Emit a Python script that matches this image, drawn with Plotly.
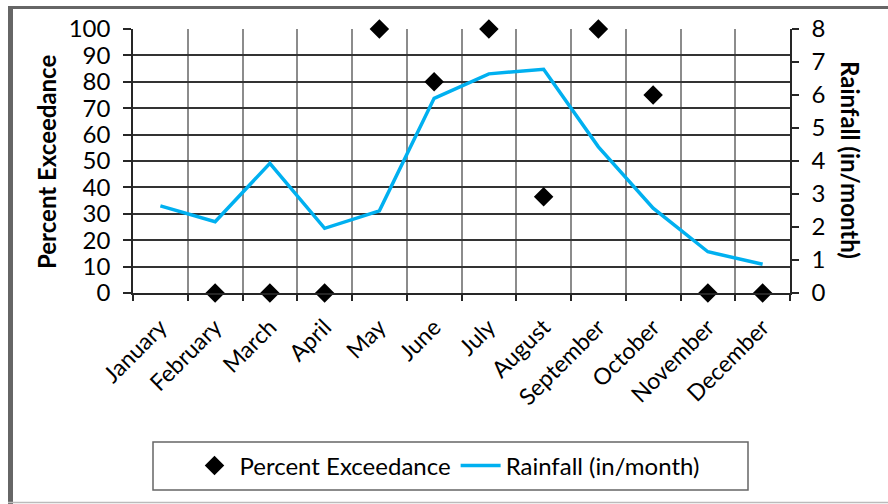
import plotly.graph_objects as go

months = ["January", "February", "March", "April", "May", "June", "July",
          "August", "September", "October", "November", "December"]
percent_exceedance = [None, 0, 0, 0, 100, 80, 100, 36.5, 100, 75, 0, 0]
rainfall = [2.64, 2.16, 3.93, 1.96, 2.49, 5.9, 6.64, 6.78, 4.43, 2.57, 1.25, 0.87]

FONT = "Lato"
FS = 24
W, H = 888, 504
L, R, T, B = 133, 790, 29, 293
pw, ph = R - L, B - T


def px_x(x):
    return (x - L) / pw


def px_y(y):
    return (B - y) / ph


fig = go.Figure()
fig.add_trace(go.Scatter(
    x=months, y=percent_exceedance, name="Percent Exceedance", mode="markers",
    marker=dict(symbol="diamond", size=15, color="black"),
    cliponaxis=False, yaxis="y",
))
fig.add_trace(go.Scatter(
    x=months, y=rainfall, name="Rainfall (in/month)", mode="lines",
    line=dict(color="#00B0F0", width=3.5),
    cliponaxis=False, yaxis="y2",
))

fig.update_layout(
    width=W, height=H,
    margin=dict(l=L, r=W - R, t=T, b=H - B, autoexpand=False),
    paper_bgcolor="white", plot_bgcolor="white",
    font=dict(family=FONT, size=FS, color="black"),
    showlegend=True,
    legend=dict(
        orientation="h", x=px_x(447), y=px_y(466), xanchor="center", yanchor="middle",
        borderwidth=0, bgcolor="rgba(0,0,0,0)",
        font=dict(family=FONT, size=FS, color="black"),
        itemwidth=40, tracegroupgap=0,
    ),
    xaxis=dict(
        type="category", range=[-0.5, 11.5], tickson="boundaries",
        showgrid=True, gridcolor="#8c8c8c", gridwidth=1.5,
        showline=True, linecolor="#262626", linewidth=1.5,
        ticks="outside", ticklen=6, tickcolor="#262626", tickwidth=1.5,
        tickangle=-45, tickfont=dict(family=FONT, size=FS - 1),
        ticklabelstandoff=10, automargin=False,
    ),
    yaxis=dict(
        range=[0, 100], dtick=10, showgrid=True, gridcolor="#333333", gridwidth=1.5,
        showline=True, linecolor="#262626", linewidth=1.5,
        ticks="outside", ticklen=8, tickcolor="#262626", tickwidth=1.5,
        zeroline=False, tickfont=dict(family=FONT, size=FS),
        ticklabelstandoff=8, automargin=False,
    ),
    yaxis2=dict(
        range=[0, 8], dtick=1, overlaying="y", side="right", showgrid=False,
        showline=True, linecolor="#262626", linewidth=1.5,
        ticks="outside", ticklen=7, tickcolor="#262626", tickwidth=1.5,
        zeroline=False, tickfont=dict(family=FONT, size=FS),
        ticklabelstandoff=8, automargin=False,
    ),
    annotations=[
        dict(text="<b>Percent Exceedance</b>", x=px_x(46), y=px_y(162), xref="paper", yref="paper",
             textangle=-90, showarrow=False, font=dict(family=FONT, size=FS, color="black"),
             xanchor="center", yanchor="middle"),
        dict(text="<b>Rainfall (in/month)</b>", x=px_x(851), y=px_y(160), xref="paper", yref="paper",
             textangle=90, showarrow=False, font=dict(family=FONT, size=FS, color="black"),
             xanchor="center", yanchor="middle"),
    ],
    shapes=[
        dict(type="rect", xref="paper", yref="paper", x0=px_x(153), x1=px_x(748),
             y0=px_y(442), y1=px_y(490), line=dict(color="#666666", width=1.5), layer="below"),
        dict(type="line", xref="paper", yref="paper", x0=px_x(10.5), x1=px_x(10.5),
             y0=px_y(6), y1=px_y(506), line=dict(color="#666666", width=5)),
        dict(type="line", xref="paper", yref="paper", x0=px_x(8), x1=px_x(890),
             y0=px_y(7.5), y1=px_y(7.5), line=dict(color="#666666", width=3)),
        dict(type="line", xref="paper", yref="paper", x0=px_x(8), x1=px_x(890),
             y0=px_y(502.5), y1=px_y(502.5), line=dict(color="#bbbbbb", width=1.5)),
    ],
)

fig.write_html(
    "out.html",
    config={"displayModeBar": False},
    post_script="document.body.style.margin='0';document.body.style.overflow='hidden';",
)
